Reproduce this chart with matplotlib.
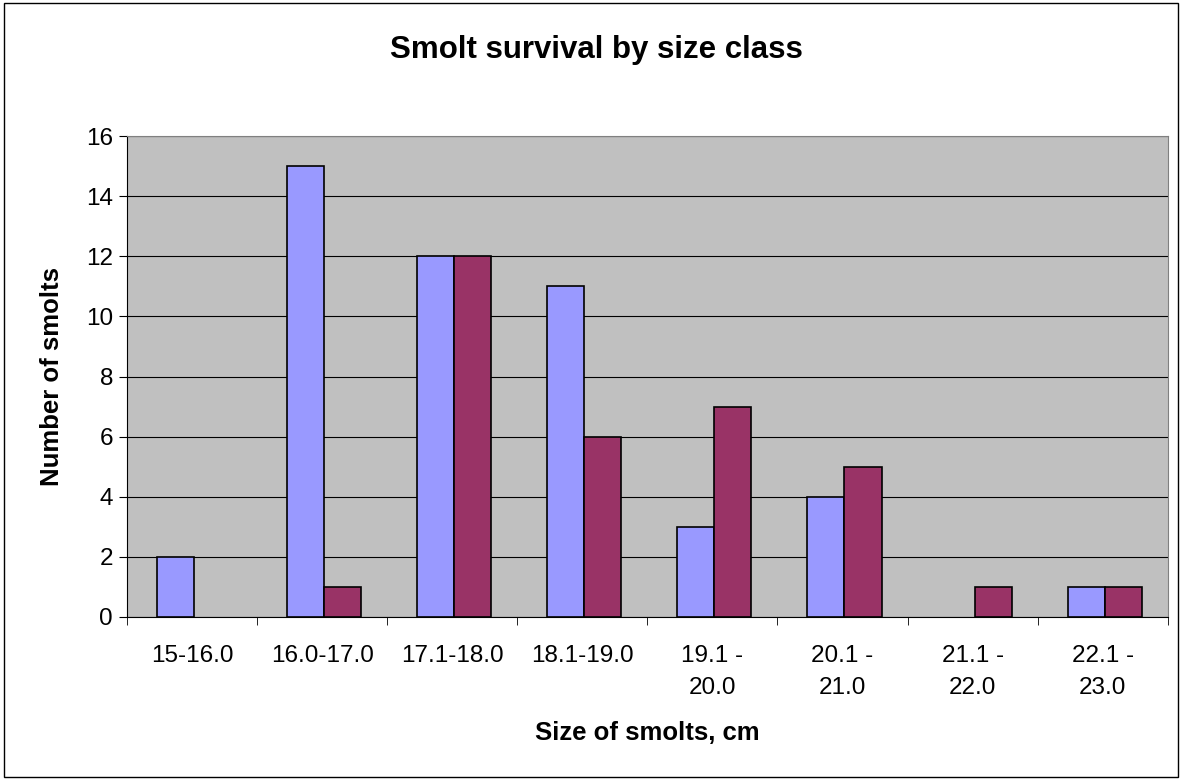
import numpy as np
import matplotlib.pyplot as plt
from matplotlib.patches import Rectangle

plt.rcParams['font.family'] = ['Liberation Sans', 'DejaVu Sans']

categories = ['15-16.0', '16.0-17.0', '17.1-18.0', '18.1-19.0',
              '19.1 -\n20.0', '20.1 -\n21.0', '21.1 -\n22.0', '22.1 -\n23.0']
series_a = [2, 15, 12, 11, 3, 4, 0, 1]
series_b = [0, 1, 12, 6, 7, 5, 1, 1]

fig = plt.figure(figsize=(11.82, 7.8), dpi=100)
ax = fig.add_axes([0.1074, 0.209, 0.8806, 0.6166])

x = np.arange(len(categories))
w = 0.285
c = x + 0.015
# zero-height bars get no outline
ax.bar(c - w / 2, series_a, w, color='#9999FF', edgecolor='black',
       linewidth=[1.2 if v else 0 for v in series_a], zorder=3)
ax.bar(c + w / 2, series_b, w, color='#993366', edgecolor='black',
       linewidth=[1.2 if v else 0 for v in series_b], zorder=3)

ax.set_facecolor('#C0C0C0')
ax.set_xlim(-0.5, len(categories) - 0.5)
ax.set_ylim(0, 16)
ax.set_yticks(range(0, 17, 2))
ax.yaxis.grid(True, color='black', linewidth=0.8, zorder=0)
ax.set_axisbelow(True)

ax.set_xticks(x)
ax.set_xticklabels(categories, fontsize=17.5, va='top', linespacing=1.6)
ax.set_xticks(np.arange(-0.5, len(categories)), minor=True)
ax.tick_params(axis='x', which='major', length=0, pad=20)
ax.tick_params(axis='x', which='minor', length=6, direction='out')
ax.tick_params(axis='y', labelsize=17.5, length=6, direction='out', pad=4)

for side in ['top', 'right']:
    ax.spines[side].set_color('#808080')
ax.spines['left'].set_color('black')
ax.spines['bottom'].set_color('black')

fig.text(0.548, 1 - 733 / 780, 'Size of smolts, cm', ha='center', va='center',
         fontsize=18.5, fontweight='bold')
fig.text(52 / 1182, 1 - 376 / 780, 'Number of smolts', ha='center', va='center',
         rotation=90, fontsize=18.5, fontweight='bold')
fig.text(0.505, 1 - 50 / 780, 'Smolt survival by size class', ha='center', va='center',
         fontsize=22.5, fontweight='bold')

fig.patches.append(Rectangle((0.003, 0.004), 0.994, 0.992, transform=fig.transFigure,
                             fill=False, edgecolor='black', linewidth=1))

plt.savefig('out.png', dpi=100)
